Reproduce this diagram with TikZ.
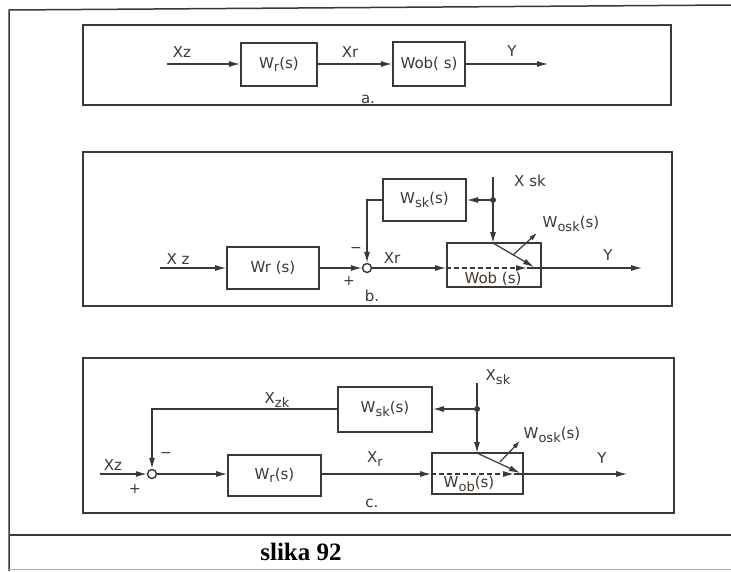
\documentclass[tikz,border=0pt]{standalone}
\usepackage{fontspec}
\setmainfont{DejaVu Sans}
\newfontfamily\capfont{Liberation Serif}
\usetikzlibrary{arrows.meta}
\definecolor{ink}{RGB}{62,55,50}
\newcommand\lo[1]{\raisebox{-0.4ex}{\fontsize{13}{13}\selectfont #1}}
\begin{document}
\begin{tikzpicture}[x=1pt,y=-1pt,
  every node/.style={text=ink, font=\fontsize{15}{17}\selectfont},
  blk/.style={draw=ink, line width=2pt, inner sep=0pt},
  ln/.style={draw=ink, line width=1.2pt},
  arr/.style={ln, -{Latex[length=11pt,width=6pt]}},
  sarr/.style={ln, -{Latex[length=8pt,width=5pt]}},
  sumc/.style={circle, draw=ink, line width=1.4pt, minimum size=9pt, inner sep=0pt, fill=white},
  frm/.style={draw=ink, line width=1.1pt},
  jdot/.style={circle, fill=ink, minimum size=6pt, inner sep=0pt},
  sgn/.style={font=\fontsize{14}{15}\selectfont},
]
\useasboundingbox (0,0) rectangle (731,571);
\fill[white] (0,0) rectangle (731,571);

% outer frame
\draw[frm, line width=1.5pt] (9,571) -- (9,10) -- (731,5);
\draw[ink, line width=2pt] (9,535) -- (731,535);
\draw[ink!40, line width=1pt] (9,569) -- (731,569);
\node[font=\capfont\bfseries\fontsize{25}{27}\selectfont, text=black] (cap) at (301,552) {slika 92};

% ---------------- panel a
\draw[frm] (83,25) rectangle (671,105);
\coordinate (aIn) at (167,64);
\node[blk, minimum width=76pt, minimum height=43pt] (aWr) at (279,64) {W\lo{r}(s)};
\node[blk, minimum width=72pt, minimum height=44pt] (aWob) at (429,64) {Wob( s)};
\coordinate (aOut) at (548,64);
\draw[arr] (aIn) -- (aWr.west);
\draw[arr] (aWr.east) -- (aWob.west);
\draw[arr] (aWob.east) -- (aOut);
\node (aXz) at (182,52) {Xz};
\node (aXr) at (350,52) {Xr};
\node (aY) at (512,51) {Y};
\node (aLab) at (368,99) {a.};

% ---------------- panel b
\draw[frm] (83,152) rectangle (672,306);
\coordinate (bIn) at (160,268);
\node[blk, minimum width=92pt, minimum height=42pt] (bWr) at (273,268) {Wr (s)};
\node[sumc] (bSum) at (367,268) {};
\node[blk, minimum width=83pt, minimum height=42pt] (bWsk) at (424.5,200) {W\lo{sk}(s)};
\node[blk, minimum width=94pt, minimum height=44pt] (bWob) at (494,265) {};
\node (bWobT) at (493,279) {Wob (s)};
\node[jdot] (bDot) at (493,200) {};
\coordinate (bXskTop) at (493,177);
\coordinate (bTop) at (493,243);
\coordinate (bTip) at (527,268);
\coordinate (bDiag) at (534,267);
\coordinate (bMid) at (513,255);
\coordinate (bOsk) at (537,233);
\coordinate (bOut) at (642,268);
\draw[arr] (bIn) -- (bWr.west);
\draw[arr] (bWr.east) -- (bSum.west);
\draw[arr] (bWsk.west) -| (bSum.north);
\draw[arr] (bSum.east) -- (bWob.west |- bSum);
\draw[ln, dash pattern=on 5pt off 3pt, -{Latex[length=11pt,width=6pt]}] (bWob.west |- bSum) -- (bTip);
\draw[arr] (bTip) -- (bOut);
\draw[ln] (bXskTop) -- (bDot);
\draw[arr] (bDot) -- (bWsk.east);
\draw[arr] (bDot) -- (bTop);
\draw[arr] (bTop) -- (bDiag);
\draw[sarr] (bMid) -- (bOsk);
\node (bXz) at (178,259) {X z};
\node (bXr) at (392,258) {Xr};
\node (bXsk) at (530,181) {X sk};
\node (bOskL) at (571,224) {W\lo{osk}(s)};
\node (bY) at (608,255) {Y};
\node[sgn] (bMinus) at (356,250) {−};
\node[sgn] (bPlus) at (349,281) {+};
\node (bLab) at (372,296) {b.};

% ---------------- panel c
\draw[frm] (83,358) rectangle (674,513);
\coordinate (cIn) at (100,474);
\node[sumc] (cSum) at (152,474) {};
\node[blk, minimum width=93pt, minimum height=41pt] (cWr) at (274.5,475) {W\lo{r}(s)};
\node[blk, minimum width=94pt, minimum height=45pt] (cWsk) at (385,409) {W\lo{sk}(s)};
\node[blk, minimum width=91pt, minimum height=41pt] (cWob) at (477.5,473.5) {};
\node (cWobT) at (469,484) {W\lo{ob}(s)};
\node[jdot] (cDot) at (477,409) {};
\coordinate (cXskTop) at (477,383);
\coordinate (cTop) at (477,453);
\coordinate (cTip) at (514,474);
\coordinate (cDiag) at (520,473);
\coordinate (cMid) at (500,462);
\coordinate (cOsk) at (520,441);
\coordinate (cOut) at (627,474);
\draw[arr] (cIn) -- (cSum.west);
\draw[arr] (cWsk.west) -| (cSum.north);
\draw[arr] (cSum.east) -- (cWr.west |- cSum);
\draw[arr] (cWr.east |- cSum) -- (cWob.west |- cSum);
\draw[ln, dash pattern=on 5pt off 3pt, -{Latex[length=11pt,width=6pt]}] (cWob.west |- cSum) -- (cTip);
\draw[arr] (cTip) -- (cOut);
\draw[ln] (cXskTop) -- (cDot);
\draw[arr] (cDot) -- (cWsk.east);
\draw[arr] (cDot) -- (cTop);
\draw[arr] (cTop) -- (cDiag);
\draw[sarr] (cMid) -- (cOsk);
\node (cXz) at (113,465) {Xz};
\node[sgn] (cPlus) at (135,489) {+};
\node[sgn] (cMinus) at (166,455) {−};
\node (cXzk) at (277,400) {X\lo{zk}};
\node (cXsk) at (498,377) {X\lo{sk}};
\node (cOskL) at (552,435) {W\lo{osk}(s)};
\node (cXr) at (375,459) {X\lo{r}};
\node (cY) at (602,458) {Y};
\node (cLab) at (372,503) {c.};
\end{tikzpicture}
\end{document}
